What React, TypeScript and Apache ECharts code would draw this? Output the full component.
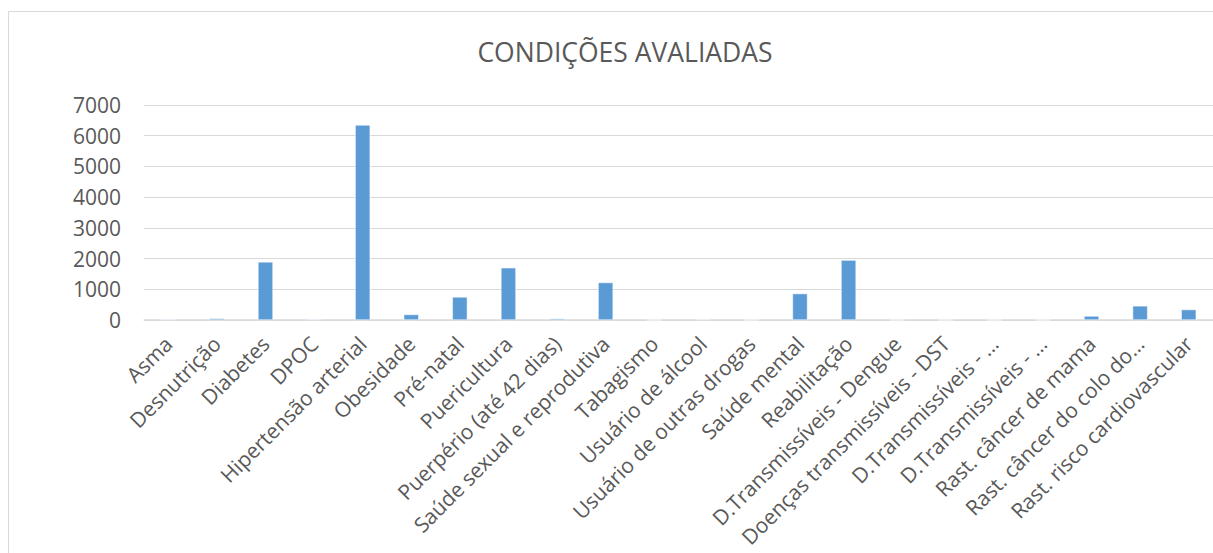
import React, { useEffect, useRef } from "react";
import * as echarts from "echarts";

const categories = [
  "Asma",
  "Desnutrição",
  "Diabetes",
  "DPOC",
  "Hipertensão arterial",
  "Obesidade",
  "Pré-natal",
  "Puericultura",
  "Puerpério (até 42 dias)",
  "Saúde sexual e reprodutiva",
  "Tabagismo",
  "Usuário de álcool",
  "Usuário de outras drogas",
  "Saúde mental",
  "Reabilitação",
  "D.Transmissíveis - Dengue",
  "Doenças transmissíveis - DST",
  "D.Transmissíveis - …",
  "D.Transmissíveis - …",
  "Rast. câncer de mama",
  "Rast. câncer do colo do…",
  "Rast. risco cardiovascular",
];

const values = [
  25, 50, 1890, 25, 6350, 180, 750, 1700, 45, 1220, 0, 25, 0, 860, 1950, 0, 0, 0, 0, 130, 460, 340,
];

const yTicks = { min: 0, max: 7000, interval: 1000 };

export default function App() {
  const ref = useRef<HTMLDivElement>(null);
  useEffect(() => {
    if (!ref.current) return;
    const chart = echarts.init(ref.current, undefined, { renderer: "svg" });
    const font = "'Open Sans', 'Noto Sans', sans-serif";
    chart.setOption({
      animation: false,
      backgroundColor: "#ffffff",
      title: {
        text: "CONDIÇÕES AVALIADAS",
        left: 620,
        top: 33,
        textAlign: "center",
        textStyle: { color: "#595959", fontSize: 26.5, fontWeight: "normal", fontFamily: font },
      },
      graphic: [
        {
          type: "rect",
          shape: { x: 8.5, y: 11.5, width: 1300, height: 700 },
          style: { fill: "none", stroke: "#d9d9d9", lineWidth: 1 },
          silent: true,
          z: -10,
        },
      ],
      grid: { left: 144, right: 0, top: 105, bottom: 233, containLabel: false },
      xAxis: {
        type: "category",
        data: categories,
        axisLine: { lineStyle: { color: "#d9d9d9", width: 1.5 } },
        axisTick: { show: false },
        axisLabel: {
          rotate: 45,
          interval: 0,
          color: "#595959",
          fontSize: 21,
          fontFamily: font,
          margin: 20,
        },
      },
      yAxis: {
        type: "value",
        min: yTicks.min,
        max: yTicks.max,
        interval: yTicks.interval,
        axisLine: { show: false },
        axisTick: { show: false },
        splitLine: { lineStyle: { color: "#d9d9d9", width: 1 } },
        axisLabel: {
          color: "#595959",
          fontSize: 21,
          fontFamily: font,
          margin: 23,
          formatter: (v: number) => String(v),
        },
      },
      series: [
        {
          type: "bar",
          data: values,
          barWidth: 15,
          itemStyle: { color: "#5b9bd5", borderColor: "#ffffff", borderWidth: 0.5 },
        },
      ],
    });
    return () => chart.dispose();
  }, []);
  return (
    <div
      ref={ref}
      style={{ position: "fixed", left: 0, top: 0, width: 1213, height: 553 }}
    />
  );
}
